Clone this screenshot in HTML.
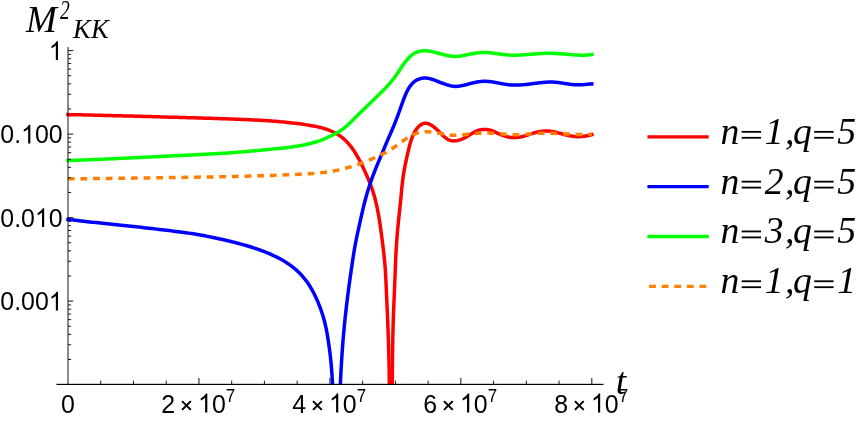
<!DOCTYPE html><html><head><meta charset="utf-8"><style>
html,body{margin:0;padding:0;background:#fff;}
body{width:864px;height:421px;overflow:hidden;position:relative;}
svg{position:absolute;left:0;top:0;will-change:transform;}
text{fill:#000;}
.sans{font-family:"Liberation Sans",sans-serif;}
.ser{font-family:"Liberation Serif",serif;font-style:italic;}
</style></head><body>
<svg width="864" height="421" viewBox="0 0 864 421">
<rect width="864" height="421" fill="#fff"/>
<defs><clipPath id="c"><rect x="0" y="0" width="864" height="384.6"/></clipPath></defs>
<g clip-path="url(#c)" fill="none" stroke-linejoin="round" stroke-linecap="square" stroke-width="3.5">
<polyline stroke="#ff0000" points="68.01,114.60 69.72,114.63 71.50,114.67 73.33,114.70 75.21,114.74 77.14,114.78 79.13,114.83 81.16,114.87 83.24,114.92 85.36,114.97 87.53,115.01 89.74,115.07 91.99,115.12 94.28,115.17 96.60,115.23 98.96,115.28 101.35,115.34 103.77,115.40 106.23,115.46 108.71,115.52 111.22,115.58 113.75,115.64 116.30,115.71 118.88,115.77 121.47,115.84 124.09,115.91 126.72,115.97 129.36,116.04 132.02,116.11 134.68,116.18 137.36,116.25 140.04,116.32 142.73,116.39 145.43,116.47 148.13,116.54 150.82,116.61 153.52,116.69 156.21,116.76 158.90,116.83 161.59,116.91 164.26,116.98 166.93,117.05 169.59,117.13 172.23,117.20 174.86,117.28 177.47,117.35 180.07,117.43 182.64,117.50 185.20,117.57 187.73,117.65 190.23,117.72 192.71,117.79 195.16,117.87 197.59,117.94 199.98,118.01 202.34,118.08 204.66,118.15 206.96,118.22 209.23,118.29 211.48,118.36 213.71,118.43 215.91,118.50 218.10,118.57 220.28,118.64 222.44,118.72 224.59,118.79 226.73,118.86 228.87,118.94 231.00,119.01 233.13,119.09 235.26,119.17 237.39,119.25 239.53,119.33 241.67,119.41 243.81,119.50 245.95,119.59 248.10,119.68 250.24,119.78 252.38,119.88 254.53,119.98 256.66,120.09 258.80,120.20 260.93,120.32 263.06,120.45 265.19,120.58 267.31,120.72 269.42,120.86 271.52,121.01 273.62,121.17 275.71,121.33 277.79,121.51 279.86,121.69 281.91,121.87 283.95,122.07 285.97,122.26 287.98,122.47 289.97,122.68 291.94,122.90 293.89,123.13 295.81,123.36 297.72,123.60 299.59,123.85 301.45,124.10 303.27,124.35 305.06,124.62 306.82,124.89 308.53,125.16 310.21,125.44 311.84,125.73 313.43,126.02 314.96,126.31 316.44,126.61 317.86,126.91 319.23,127.22 320.52,127.53 321.76,127.85 322.95,128.17 324.09,128.51 325.20,128.85 326.28,129.21 327.34,129.58 328.39,129.97 329.43,130.38 330.49,130.81 331.55,131.26 332.61,131.73 333.66,132.23 334.72,132.75 335.76,133.30 336.79,133.87 337.81,134.48 338.81,135.10 339.79,135.76 340.75,136.44 341.69,137.16 342.60,137.89 343.50,138.65 344.38,139.44 345.24,140.24 346.09,141.07 346.91,141.92 347.72,142.79 348.51,143.68 349.29,144.59 350.04,145.51 350.79,146.45 351.51,147.41 352.23,148.38 352.92,149.36 353.61,150.36 354.28,151.36 354.94,152.38 355.58,153.41 356.21,154.45 356.83,155.49 357.44,156.54 358.04,157.60 358.63,158.66 359.20,159.73 359.77,160.80 360.33,161.88 360.88,162.95 361.41,164.03 361.94,165.11 362.47,166.19 362.98,167.27 363.49,168.34 363.98,169.42 364.48,170.49 364.96,171.56 365.44,172.63 365.91,173.69 366.38,174.75 366.84,175.80 367.29,176.85 367.75,177.88 368.19,178.92 368.63,179.95 369.07,180.99 369.51,182.04 369.95,183.12 370.38,184.22 370.82,185.36 371.25,186.54 371.69,187.77 372.12,189.05 372.56,190.38 373.00,191.75 373.43,193.16 373.86,194.60 374.28,196.06 374.69,197.54 375.09,199.04 375.48,200.55 375.86,202.06 376.22,203.56 376.57,205.06 376.90,206.56 377.22,208.04 377.52,209.53 377.81,211.00 378.09,212.47 378.36,213.94 378.62,215.41 378.87,216.87 379.11,218.33 379.35,219.78 379.58,221.24 379.80,222.68 380.01,224.12 380.22,225.54 380.42,226.93 380.61,228.29 380.80,229.63 380.98,230.92 381.15,232.17 381.31,233.37 381.46,234.52 381.60,235.62 381.74,236.70 381.88,237.77 382.02,238.85 382.16,239.96 382.31,241.12 382.46,242.35 382.63,243.67 382.80,245.08 382.98,246.57 383.17,248.13 383.37,249.76 383.57,251.44 383.76,253.17 383.96,254.94 384.15,256.74 384.34,258.56 384.53,260.39 384.70,262.22 384.86,264.05 385.01,265.86 385.15,267.66 385.28,269.46 385.40,271.25 385.51,273.03 385.62,274.82 385.72,276.62 385.81,278.43 385.90,280.25 385.98,282.09 386.07,283.94 386.15,285.83 386.23,287.74 386.32,289.68 386.41,291.66 386.50,293.68 386.59,295.73 386.68,297.81 386.78,299.93 386.87,302.08 386.97,304.26 387.07,306.48 387.17,308.73 387.27,311.01 387.37,313.33 387.47,315.67 387.57,318.05 387.67,320.46 387.77,322.90 387.86,325.36 387.96,327.86 388.06,330.39 388.15,332.94 388.24,335.53 388.33,338.14 388.42,340.78 388.50,343.45 388.59,346.14 388.66,348.86 388.74,351.61 388.81,354.38 388.88,357.18 388.95,360.01 389.01,362.85 389.07,365.73 389.12,368.62 389.17,371.54 389.21,374.49 389.25,377.45 389.28,380.44 389.30,383.45 389.33,386.47 389.34,389.44 389.36,392.28 389.37,394.89 389.38,397.20 389.40,399.13 389.42,400.59 389.45,401.50 389.49,401.78 389.54,401.34 389.60,400.11"/>
<polyline stroke="#ff0000" points="391.90,400.01 391.93,399.63 391.95,399.12 391.97,398.50 391.99,397.77 392.01,396.93 392.03,395.98 392.05,394.93 392.07,393.78 392.09,392.55 392.11,391.22 392.13,389.81 392.15,388.33 392.17,386.77 392.18,385.14 392.20,383.44 392.22,381.68 392.24,379.87 392.26,378.00 392.28,376.08 392.31,374.12 392.33,372.11 392.35,370.07 392.38,367.99 392.40,365.88 392.43,363.75 392.45,361.59 392.48,359.41 392.51,357.22 392.54,355.01 392.57,352.80 392.61,350.58 392.64,348.36 392.67,346.15 392.71,343.95 392.75,341.75 392.79,339.57 392.83,337.41 392.88,335.28 392.92,333.17 392.97,331.09 393.02,329.04 393.07,327.03 393.12,325.07 393.18,323.15 393.23,321.27 393.29,319.43 393.35,317.63 393.41,315.87 393.47,314.14 393.54,312.44 393.60,310.78 393.67,309.14 393.73,307.53 393.80,305.95 393.86,304.39 393.93,302.85 394.00,301.33 394.06,299.83 394.13,298.34 394.20,296.87 394.26,295.40 394.32,293.95 394.39,292.51 394.45,291.07 394.51,289.63 394.57,288.20 394.63,286.77 394.68,285.34 394.74,283.92 394.79,282.49 394.85,281.08 394.90,279.66 394.95,278.25 395.01,276.83 395.06,275.43 395.11,274.02 395.17,272.62 395.22,271.22 395.27,269.82 395.33,268.43 395.38,267.04 395.44,265.65 395.49,264.27 395.55,262.88 395.61,261.51 395.67,260.13 395.73,258.76 395.79,257.39 395.85,256.02 395.92,254.66 395.99,253.30 396.06,251.94 396.13,250.59 396.21,249.24 396.28,247.89 396.36,246.55 396.45,245.20 396.53,243.87 396.62,242.53 396.71,241.20 396.81,239.87 396.90,238.55 397.01,237.23 397.11,235.91 397.22,234.60 397.33,233.29 397.44,231.99 397.56,230.70 397.67,229.41 397.79,228.13 397.91,226.86 398.04,225.60 398.16,224.35 398.28,223.10 398.41,221.87 398.53,220.65 398.66,219.44 398.78,218.25 398.91,217.07 399.03,215.90 399.15,214.74 399.28,213.60 399.40,212.46 399.52,211.33 399.64,210.20 399.76,209.08 399.88,207.96 400.00,206.84 400.11,205.71 400.23,204.59 400.35,203.45 400.46,202.31 400.58,201.16 400.69,200.01 400.80,198.83 400.92,197.65 401.03,196.46 401.14,195.26 401.26,194.05 401.37,192.84 401.49,191.63 401.60,190.41 401.72,189.20 401.84,187.99 401.96,186.78 402.09,185.58 402.22,184.39 402.35,183.20 402.48,182.03 402.62,180.87 402.77,179.72 402.92,178.59 403.07,177.48 403.22,176.38 403.38,175.29 403.55,174.22 403.71,173.16 403.89,172.11 404.06,171.07 404.24,170.05 404.42,169.04 404.60,168.04 404.78,167.05 404.97,166.07 405.16,165.09 405.35,164.13 405.55,163.18 405.74,162.24 405.94,161.30 406.14,160.37 406.34,159.45 406.54,158.53 406.74,157.62 406.95,156.72 407.15,155.82 407.36,154.92 407.56,154.03 407.76,153.15 407.97,152.26 408.17,151.38 408.38,150.51 408.59,149.64 408.80,148.78 409.01,147.92 409.23,147.07 409.44,146.22 409.66,145.39 409.89,144.56 410.12,143.73 410.35,142.92 410.59,142.11 410.84,141.32 411.09,140.53 411.34,139.75 411.61,138.98 411.88,138.22 412.16,137.48 412.44,136.74 412.74,136.02 413.04,135.30 413.35,134.60 413.67,133.92 414.00,133.24 414.34,132.58 414.69,131.93 415.05,131.30 415.43,130.68 415.81,130.08 416.21,129.49 416.62,128.92 417.04,128.37 417.48,127.83 417.93,127.32 418.39,126.82 418.86,126.35 419.34,125.91 419.83,125.49 420.33,125.11 420.84,124.75 421.36,124.43 421.89,124.14 422.43,123.89 422.98,123.68 423.54,123.51 424.10,123.38 424.67,123.29 425.25,123.25 425.83,123.26 426.42,123.32 427.02,123.41 427.62,123.56 428.22,123.74 428.83,123.96 429.44,124.22 430.05,124.51 430.67,124.84 431.28,125.20 431.90,125.58 432.52,126.00 433.13,126.43 433.75,126.90 434.36,127.38 434.97,127.88 435.57,128.40 436.18,128.93 436.77,129.48 437.37,130.04 437.95,130.61 438.54,131.18 439.12,131.76 439.70,132.34 440.27,132.91 440.84,133.49 441.42,134.06 441.99,134.62 442.56,135.18 443.13,135.72 443.70,136.24 444.28,136.75 444.86,137.23 445.44,137.70 446.02,138.14 446.61,138.55 447.20,138.94 447.80,139.29 448.40,139.61 449.01,139.89 449.62,140.14 450.24,140.34 450.87,140.52 451.50,140.66 452.14,140.76 452.78,140.83 453.42,140.88 454.07,140.89 454.72,140.87 455.37,140.83 456.03,140.76 456.69,140.66 457.35,140.54 458.01,140.39 458.67,140.22 459.33,140.04 459.99,139.83 460.65,139.60 461.31,139.35 461.97,139.09 462.62,138.81 463.27,138.51 463.92,138.20 464.57,137.88 465.21,137.55 465.85,137.20 466.49,136.85 467.12,136.49 467.74,136.12 468.36,135.74 468.98,135.36 469.60,134.98 470.21,134.60 470.82,134.22 471.44,133.85 472.05,133.48 472.66,133.11 473.27,132.76 473.89,132.41 474.51,132.08 475.13,131.75 475.75,131.45 476.38,131.16 477.01,130.89 477.65,130.63 478.29,130.40 478.95,130.20 479.60,130.01 480.27,129.85 480.94,129.72 481.61,129.60 482.29,129.52 482.97,129.45 483.65,129.41 484.34,129.39 485.03,129.39 485.72,129.42 486.42,129.47 487.11,129.55 487.80,129.64 488.50,129.77 489.19,129.91 489.88,130.08 490.57,130.27 491.25,130.48 491.93,130.72 492.61,130.98 493.29,131.25 493.98,131.54 494.66,131.85 495.35,132.16 496.05,132.49 496.75,132.82 497.47,133.15 498.19,133.48 498.93,133.82 499.68,134.14 500.43,134.47 501.20,134.79 501.97,135.09 502.75,135.39 503.54,135.67 504.33,135.94 505.12,136.20 505.91,136.43 506.70,136.64 507.49,136.84 508.28,137.00 509.07,137.15 509.86,137.28 510.64,137.38 511.43,137.46 512.22,137.52 513.00,137.56 513.79,137.58 514.58,137.58 515.37,137.56 516.16,137.51 516.96,137.45 517.76,137.37 518.55,137.27 519.36,137.15 520.16,137.01 520.97,136.86 521.78,136.68 522.60,136.49 523.42,136.28 524.25,136.05 525.08,135.81 525.92,135.55 526.76,135.28 527.61,135.00 528.46,134.72 529.32,134.43 530.18,134.14 531.06,133.85 531.93,133.56 532.82,133.28 533.71,133.01 534.60,132.75 535.51,132.50 536.42,132.27 537.33,132.05 538.24,131.85 539.16,131.67 540.07,131.50 540.99,131.36 541.90,131.23 542.80,131.13 543.70,131.04 544.59,130.98 545.47,130.95 546.34,130.94 547.20,130.96 548.05,131.00 548.90,131.06 549.73,131.14 550.57,131.25 551.40,131.37 552.23,131.51 553.06,131.66 553.89,131.83 554.72,132.02 555.57,132.21 556.42,132.42 557.27,132.63 558.13,132.85 559.00,133.08 559.87,133.31 560.75,133.54 561.63,133.78 562.52,134.02 563.41,134.25 564.30,134.48 565.20,134.71 566.10,134.94 567.00,135.15 567.90,135.36 568.80,135.56 569.71,135.75 570.62,135.92 571.52,136.08 572.43,136.23 573.33,136.35 574.24,136.46 575.14,136.55 576.05,136.62 576.95,136.67 577.84,136.69 578.74,136.69 579.63,136.67 580.51,136.62 581.38,136.56 582.24,136.48 583.08,136.39 583.91,136.28 584.72,136.17 585.51,136.04 586.28,135.91 587.02,135.77 587.73,135.63 588.42,135.48 589.07,135.34 589.69,135.19 590.28,135.06 590.83,134.92 591.34,134.80 591.80,134.68"/>
<polyline stroke="#0000ff" points="68.01,219.40 69.85,219.64 71.73,219.87 73.63,220.10 75.55,220.33 77.50,220.56 79.47,220.79 81.46,221.02 83.48,221.25 85.53,221.47 87.59,221.70 89.68,221.93 91.79,222.16 93.93,222.38 96.08,222.61 98.26,222.84 100.47,223.07 102.69,223.31 104.94,223.54 107.21,223.78 109.50,224.01 111.81,224.25 114.14,224.50 116.50,224.74 118.87,224.99 121.27,225.24 123.68,225.49 126.12,225.75 128.58,226.01 131.06,226.27 133.56,226.54 136.07,226.81 138.61,227.08 141.17,227.36 143.74,227.65 146.33,227.94 148.93,228.23 151.52,228.52 154.11,228.82 156.68,229.12 159.24,229.41 161.76,229.71 164.25,230.00 166.69,230.29 169.09,230.58 171.43,230.87 173.70,231.15 175.91,231.42 178.04,231.69 180.08,231.95 182.03,232.21 183.88,232.45 185.64,232.69 187.29,232.92 188.87,233.14 190.38,233.36 191.83,233.58 193.25,233.80 194.64,234.02 196.02,234.25 197.40,234.49 198.80,234.73 200.23,234.98 201.70,235.25 203.21,235.53 204.75,235.83 206.33,236.13 207.94,236.45 209.57,236.78 211.23,237.11 212.91,237.46 214.60,237.81 216.31,238.18 218.02,238.54 219.74,238.92 221.47,239.30 223.19,239.69 224.91,240.08 226.63,240.48 228.35,240.88 230.06,241.29 231.77,241.71 233.48,242.13 235.18,242.56 236.88,243.00 238.58,243.44 240.26,243.89 241.94,244.35 243.62,244.82 245.29,245.30 246.94,245.78 248.60,246.27 250.24,246.78 251.87,247.29 253.49,247.81 255.11,248.34 256.71,248.88 258.30,249.43 259.88,249.99 261.44,250.56 263.00,251.15 264.54,251.74 266.07,252.34 267.58,252.96 269.07,253.59 270.56,254.23 272.02,254.88 273.47,255.55 274.90,256.22 276.32,256.91 277.72,257.62 279.10,258.33 280.46,259.07 281.80,259.81 283.12,260.57 284.42,261.34 285.70,262.13 286.96,262.93 288.19,263.75 289.41,264.58 290.60,265.43 291.76,266.29 292.91,267.17 294.03,268.06 295.12,268.98 296.19,269.90 297.23,270.85 298.25,271.80 299.24,272.77 300.21,273.76 301.16,274.75 302.08,275.76 302.97,276.78 303.84,277.81 304.69,278.85 305.51,279.90 306.30,280.96 307.08,282.03 307.84,283.11 308.58,284.21 309.31,285.33 310.02,286.47 310.72,287.63 311.41,288.81 312.09,290.02 312.77,291.25 313.44,292.51 314.10,293.79 314.76,295.09 315.40,296.42 316.04,297.77 316.67,299.14 317.28,300.52 317.89,301.93 318.49,303.36 319.07,304.80 319.64,306.26 320.20,307.73 320.74,309.22 321.27,310.73 321.78,312.24 322.28,313.77 322.77,315.31 323.23,316.86 323.69,318.42 324.12,319.98 324.53,321.56 324.93,323.14 325.30,324.73 325.66,326.32 326.00,327.92 326.33,329.52 326.64,331.12 326.94,332.72 327.22,334.31 327.50,335.91 327.76,337.50 328.01,339.09 328.26,340.67 328.50,342.25 328.73,343.81 328.96,345.37 329.18,346.93 329.40,348.49 329.61,350.05 329.81,351.62 330.01,353.19 330.20,354.78 330.38,356.38 330.56,358.01 330.73,359.65 330.90,361.31 331.05,363.00 331.21,364.71 331.35,366.45 331.49,368.19 331.62,369.95 331.75,371.71 331.87,373.47 331.99,375.24 332.10,376.99 332.21,378.74 332.31,380.48 332.41,382.20 332.50,383.89 332.59,385.56 332.67,387.21 332.75,388.81 332.83,390.39 332.91,391.92 332.98,393.40 333.05,394.84 333.11,396.22 333.18,397.54 333.24,398.81 333.30,400.01"/>
<polyline stroke="#0000ff" points="339.80,400.07 339.83,399.11 339.86,398.13 339.89,397.14 339.93,396.13 339.96,395.12 340.00,394.09 340.03,393.05 340.07,392.00 340.11,390.93 340.15,389.86 340.20,388.77 340.24,387.68 340.28,386.57 340.33,385.46 340.38,384.33 340.43,383.20 340.48,382.05 340.53,380.90 340.58,379.74 340.64,378.57 340.69,377.40 340.75,376.21 340.81,375.02 340.87,373.82 340.93,372.62 341.00,371.41 341.06,370.19 341.13,368.97 341.19,367.74 341.26,366.51 341.33,365.27 341.41,364.02 341.48,362.78 341.56,361.52 341.63,360.27 341.71,359.01 341.79,357.75 341.87,356.48 341.96,355.22 342.04,353.95 342.13,352.67 342.22,351.40 342.31,350.13 342.40,348.85 342.49,347.57 342.58,346.30 342.68,345.02 342.78,343.74 342.88,342.46 342.98,341.19 343.08,339.91 343.19,338.64 343.30,337.36 343.40,336.09 343.51,334.82 343.63,333.55 343.74,332.29 343.85,331.02 343.97,329.76 344.09,328.50 344.21,327.24 344.33,325.98 344.46,324.72 344.58,323.46 344.71,322.21 344.84,320.95 344.97,319.70 345.10,318.44 345.23,317.19 345.37,315.94 345.50,314.69 345.64,313.44 345.78,312.19 345.92,310.94 346.06,309.69 346.20,308.45 346.35,307.20 346.50,305.95 346.64,304.71 346.79,303.46 346.94,302.21 347.10,300.97 347.25,299.72 347.40,298.48 347.56,297.23 347.72,295.98 347.88,294.74 348.04,293.49 348.20,292.24 348.36,291.00 348.52,289.75 348.69,288.50 348.85,287.25 349.02,286.01 349.19,284.76 349.36,283.51 349.53,282.26 349.70,281.00 349.88,279.75 350.05,278.50 350.23,277.24 350.40,275.99 350.58,274.73 350.76,273.48 350.94,272.22 351.12,270.96 351.30,269.70 351.49,268.43 351.67,267.17 351.86,265.91 352.04,264.64 352.23,263.37 352.42,262.10 352.61,260.84 352.80,259.57 352.99,258.31 353.18,257.05 353.38,255.80 353.58,254.55 353.78,253.30 353.98,252.07 354.18,250.83 354.38,249.61 354.59,248.40 354.80,247.19 355.01,246.00 355.22,244.81 355.44,243.64 355.66,242.48 355.88,241.33 356.10,240.19 356.33,239.07 356.55,237.95 356.79,236.83 357.02,235.72 357.25,234.61 357.49,233.51 357.73,232.40 357.98,231.29 358.22,230.17 358.47,229.05 358.73,227.93 358.98,226.79 359.24,225.64 359.50,224.48 359.76,223.31 360.03,222.12 360.30,220.92 360.57,219.70 360.84,218.47 361.12,217.24 361.40,215.99 361.68,214.74 361.97,213.49 362.26,212.23 362.55,210.97 362.84,209.71 363.14,208.44 363.44,207.19 363.74,205.93 364.05,204.68 364.36,203.44 364.67,202.20 364.99,200.98 365.31,199.76 365.63,198.56 365.95,197.37 366.28,196.19 366.61,195.03 366.94,193.88 367.28,192.73 367.62,191.60 367.96,190.49 368.30,189.38 368.64,188.28 368.99,187.20 369.34,186.13 369.69,185.07 370.04,184.02 370.39,182.98 370.74,181.95 371.09,180.93 371.45,179.92 371.80,178.92 372.16,177.93 372.52,176.96 372.87,175.99 373.23,175.03 373.59,174.08 373.95,173.15 374.30,172.22 374.66,171.30 375.02,170.39 375.37,169.49 375.73,168.59 376.08,167.71 376.44,166.84 376.79,165.97 377.14,165.11 377.49,164.26 377.85,163.41 378.20,162.57 378.55,161.73 378.90,160.89 379.26,160.04 379.61,159.19 379.97,158.34 380.33,157.49 380.70,156.62 381.06,155.75 381.43,154.87 381.81,153.98 382.18,153.07 382.57,152.16 382.95,151.24 383.33,150.31 383.72,149.38 384.11,148.45 384.50,147.51 384.89,146.57 385.28,145.64 385.67,144.71 386.06,143.78 386.45,142.86 386.84,141.94 387.23,141.04 387.61,140.14 388.00,139.26 388.38,138.38 388.76,137.52 389.13,136.66 389.51,135.81 389.88,134.96 390.25,134.12 390.62,133.29 390.98,132.45 391.34,131.62 391.70,130.79 392.06,129.96 392.42,129.13 392.77,128.30 393.12,127.47 393.47,126.63 393.81,125.80 394.16,124.95 394.50,124.11 394.84,123.26 395.18,122.41 395.52,121.55 395.86,120.69 396.19,119.82 396.53,118.95 396.86,118.07 397.19,117.18 397.52,116.28 397.86,115.39 398.19,114.48 398.52,113.57 398.84,112.66 399.17,111.75 399.50,110.84 399.82,109.93 400.15,109.02 400.47,108.12 400.79,107.22 401.11,106.33 401.43,105.44 401.74,104.56 402.06,103.69 402.37,102.83 402.68,101.99 402.98,101.15 403.29,100.33 403.59,99.53 403.89,98.74 404.19,97.97 404.48,97.21 404.78,96.48 405.07,95.77 405.35,95.08 405.64,94.41 405.92,93.77 406.19,93.15 406.47,92.56 406.74,91.98 407.01,91.43 407.28,90.89 407.55,90.37 407.82,89.87 408.08,89.38 408.35,88.91 408.61,88.46 408.88,88.01 409.15,87.58 409.42,87.16 409.69,86.76 409.96,86.36 410.24,85.98 410.52,85.60 410.80,85.23 411.09,84.87 411.39,84.52 411.69,84.18 412.00,83.84 412.31,83.50 412.63,83.18 412.96,82.85 413.30,82.54 413.65,82.23 414.01,81.93 414.37,81.63 414.75,81.35 415.14,81.07 415.54,80.80 415.96,80.54 416.38,80.29 416.81,80.05 417.26,79.82 417.71,79.61 418.17,79.40 418.65,79.21 419.13,79.03 419.62,78.86 420.11,78.71 420.62,78.57 421.13,78.44 421.65,78.33 422.18,78.24 422.72,78.16 423.26,78.10 423.81,78.06 424.36,78.03 424.92,78.02 425.48,78.04 426.05,78.07 426.63,78.11 427.21,78.18 427.79,78.27 428.38,78.37 428.97,78.48 429.56,78.61 430.16,78.76 430.76,78.92 431.37,79.08 431.98,79.27 432.59,79.46 433.20,79.66 433.82,79.87 434.44,80.09 435.06,80.31 435.68,80.54 436.30,80.78 436.93,81.02 437.56,81.26 438.18,81.51 438.81,81.76 439.44,82.01 440.07,82.26 440.70,82.51 441.33,82.76 441.96,83.01 442.59,83.25 443.22,83.49 443.85,83.73 444.48,83.96 445.11,84.18 445.73,84.40 446.36,84.60 446.98,84.81 447.60,85.00 448.22,85.18 448.84,85.35 449.46,85.52 450.07,85.67 450.68,85.81 451.29,85.93 451.90,86.05 452.50,86.14 453.10,86.23 453.70,86.30 454.29,86.35 454.88,86.39 455.47,86.41 456.05,86.41 456.63,86.40 457.22,86.37 457.80,86.32 458.39,86.26 458.98,86.19 459.58,86.10 460.18,86.01 460.80,85.90 461.42,85.77 462.06,85.64 462.70,85.50 463.35,85.35 464.00,85.20 464.67,85.03 465.34,84.86 466.02,84.69 466.71,84.51 467.40,84.33 468.10,84.15 468.80,83.96 469.51,83.78 470.23,83.59 470.94,83.41 471.67,83.23 472.40,83.05 473.13,82.88 473.87,82.71 474.61,82.54 475.35,82.38 476.10,82.23 476.84,82.09 477.59,81.96 478.35,81.84 479.10,81.72 479.85,81.62 480.61,81.54 481.37,81.46 482.12,81.40 482.88,81.35 483.63,81.32 484.38,81.31 485.14,81.31 485.89,81.32 486.64,81.35 487.38,81.39 488.13,81.44 488.88,81.51 489.63,81.58 490.37,81.67 491.11,81.76 491.86,81.87 492.60,81.98 493.34,82.09 494.08,82.22 494.82,82.35 495.56,82.48 496.30,82.62 497.03,82.76 497.77,82.90 498.50,83.04 499.24,83.18 499.97,83.33 500.70,83.47 501.44,83.61 502.17,83.75 502.90,83.88 503.63,84.02 504.36,84.14 505.09,84.26 505.81,84.38 506.54,84.48 507.27,84.58 507.99,84.67 508.72,84.76 509.44,84.83 510.17,84.89 510.89,84.95 511.61,84.99 512.34,85.03 513.06,85.06 513.78,85.08 514.50,85.09 515.22,85.10 515.94,85.10 516.66,85.09 517.38,85.07 518.09,85.05 518.81,85.03 519.53,84.99 520.24,84.96 520.96,84.91 521.67,84.87 522.39,84.81 523.10,84.76 523.81,84.69 524.53,84.63 525.24,84.56 525.95,84.49 526.66,84.41 527.37,84.33 528.08,84.25 528.79,84.17 529.50,84.08 530.20,83.99 530.91,83.90 531.62,83.81 532.32,83.72 533.03,83.62 533.74,83.53 534.44,83.44 535.15,83.34 535.85,83.25 536.55,83.16 537.26,83.07 537.96,82.98 538.67,82.89 539.37,82.81 540.07,82.73 540.78,82.65 541.48,82.57 542.19,82.50 542.89,82.43 543.60,82.37 544.30,82.31 545.01,82.26 545.72,82.21 546.42,82.16 547.13,82.13 547.84,82.09 548.55,82.07 549.26,82.05 549.97,82.04 550.68,82.04 551.39,82.05 552.11,82.06 552.82,82.08 553.54,82.11 554.25,82.16 554.97,82.21 555.69,82.27 556.41,82.33 557.13,82.41 557.86,82.49 558.58,82.58 559.30,82.67 560.03,82.77 560.75,82.87 561.48,82.98 562.21,83.08 562.94,83.19 563.67,83.31 564.40,83.42 565.13,83.53 565.86,83.65 566.59,83.76 567.32,83.87 568.06,83.98 568.79,84.08 569.52,84.18 570.26,84.28 570.99,84.37 571.73,84.46 572.46,84.54 573.20,84.61 573.93,84.67 574.67,84.73 575.41,84.78 576.14,84.82 576.88,84.84 577.61,84.86 578.35,84.87 579.08,84.86 579.82,84.84 580.55,84.82 581.28,84.78 582.01,84.74 582.73,84.69 583.44,84.63 584.15,84.57 584.85,84.51 585.55,84.44 586.23,84.37 586.90,84.31 587.57,84.24 588.22,84.17 588.85,84.11 589.48,84.05 590.08,84.00 590.68,83.95 591.25,83.91 591.81,83.88"/>
<polyline stroke="#00ff00" points="68.02,160.50 69.26,160.46 70.54,160.42 71.85,160.38 73.19,160.34 74.56,160.29 75.96,160.25 77.39,160.20 78.84,160.15 80.32,160.09 81.83,160.04 83.36,159.98 84.92,159.92 86.50,159.86 88.10,159.80 89.73,159.73 91.38,159.67 93.04,159.60 94.73,159.53 96.44,159.46 98.17,159.38 99.92,159.31 101.68,159.23 103.46,159.16 105.26,159.08 107.08,159.00 108.90,158.92 110.75,158.84 112.60,158.75 114.47,158.67 116.35,158.58 118.25,158.50 120.15,158.41 122.06,158.32 123.99,158.23 125.92,158.14 127.86,158.05 129.80,157.96 131.76,157.87 133.72,157.77 135.68,157.68 137.65,157.59 139.62,157.49 141.60,157.40 143.58,157.30 145.56,157.21 147.54,157.11 149.52,157.01 151.51,156.92 153.49,156.82 155.47,156.72 157.44,156.63 159.42,156.53 161.39,156.43 163.35,156.33 165.31,156.24 167.27,156.14 169.22,156.04 171.16,155.95 173.09,155.85 175.02,155.76 176.93,155.66 178.84,155.57 180.73,155.47 182.61,155.38 184.49,155.28 186.34,155.19 188.19,155.10 190.02,155.01 191.84,154.92 193.64,154.83 195.42,154.74 197.19,154.65 198.94,154.56 200.67,154.48 202.39,154.39 204.08,154.31 205.76,154.22 207.43,154.14 209.08,154.05 210.73,153.97 212.36,153.88 213.98,153.80 215.59,153.71 217.19,153.62 218.79,153.53 220.38,153.44 221.97,153.35 223.56,153.25 225.14,153.15 226.73,153.05 228.31,152.95 229.90,152.84 231.49,152.73 233.09,152.61 234.69,152.49 236.30,152.37 237.91,152.24 239.53,152.11 241.16,151.98 242.78,151.84 244.41,151.70 246.04,151.56 247.66,151.41 249.28,151.26 250.90,151.12 252.50,150.97 254.10,150.82 255.68,150.67 257.25,150.52 258.81,150.37 260.35,150.22 261.87,150.07 263.37,149.93 264.85,149.79 266.31,149.65 267.74,149.51 269.14,149.38 270.52,149.25 271.86,149.12 273.18,149.00 274.48,148.88 275.75,148.76 277.00,148.64 278.23,148.53 279.45,148.41 280.65,148.29 281.83,148.17 283.00,148.05 284.17,147.93 285.33,147.80 286.48,147.66 287.63,147.53 288.77,147.38 289.92,147.24 291.07,147.08 292.22,146.92 293.37,146.75 294.52,146.57 295.66,146.39 296.81,146.20 297.95,146.01 299.09,145.81 300.22,145.61 301.35,145.39 302.46,145.18 303.57,144.96 304.67,144.73 305.75,144.51 306.83,144.27 307.89,144.03 308.93,143.79 309.96,143.55 310.97,143.30 311.97,143.05 312.95,142.79 313.90,142.53 314.84,142.27 315.75,142.01 316.64,141.74 317.51,141.47 318.35,141.20 319.16,140.93 319.95,140.66 320.70,140.38 321.44,140.10 322.15,139.82 322.84,139.54 323.52,139.26 324.19,138.97 324.85,138.68 325.52,138.38 326.18,138.08 326.85,137.78 327.53,137.47 328.22,137.16 328.92,136.84 329.63,136.51 330.34,136.18 331.07,135.84 331.80,135.49 332.53,135.13 333.28,134.77 334.02,134.40 334.77,134.01 335.51,133.62 336.26,133.22 337.01,132.81 337.76,132.39 338.50,131.95 339.24,131.51 339.98,131.05 340.71,130.58 341.43,130.10 342.15,129.60 342.86,129.09 343.56,128.57 344.25,128.03 344.93,127.47 345.61,126.91 346.27,126.33 346.93,125.74 347.58,125.14 348.23,124.53 348.87,123.92 349.51,123.30 350.15,122.67 350.80,122.03 351.44,121.40 352.08,120.76 352.73,120.11 353.38,119.47 354.03,118.83 354.69,118.18 355.35,117.53 356.01,116.88 356.67,116.23 357.34,115.58 358.00,114.93 358.67,114.28 359.34,113.63 360.01,112.98 360.68,112.33 361.35,111.68 362.02,111.03 362.69,110.37 363.36,109.72 364.03,109.08 364.70,108.43 365.37,107.78 366.04,107.13 366.70,106.49 367.37,105.85 368.03,105.21 368.70,104.57 369.36,103.93 370.01,103.29 370.67,102.66 371.32,102.03 371.97,101.40 372.62,100.78 373.26,100.16 373.90,99.54 374.54,98.92 375.17,98.31 375.80,97.70 376.42,97.09 377.04,96.49 377.66,95.90 378.27,95.30 378.87,94.71 379.47,94.12 380.07,93.54 380.66,92.95 381.25,92.37 381.83,91.79 382.41,91.21 382.99,90.63 383.56,90.05 384.13,89.47 384.69,88.88 385.25,88.30 385.81,87.72 386.36,87.13 386.91,86.54 387.45,85.95 387.99,85.35 388.53,84.75 389.07,84.15 389.60,83.54 390.13,82.93 390.66,82.31 391.18,81.69 391.70,81.06 392.22,80.42 392.73,79.78 393.24,79.13 393.75,78.47 394.26,77.81 394.76,77.13 395.26,76.45 395.76,75.76 396.26,75.06 396.75,74.35 397.25,73.63 397.74,72.91 398.23,72.18 398.72,71.45 399.21,70.72 399.70,69.98 400.19,69.25 400.68,68.51 401.17,67.78 401.66,67.05 402.16,66.32 402.65,65.60 403.15,64.88 403.65,64.17 404.15,63.47 404.66,62.78 405.17,62.10 405.68,61.43 406.20,60.77 406.72,60.13 407.24,59.50 407.77,58.88 408.31,58.29 408.85,57.71 409.40,57.15 409.95,56.61 410.51,56.09 411.08,55.59 411.65,55.12 412.23,54.67 412.82,54.25 413.41,53.85 414.02,53.48 414.63,53.13 415.25,52.82 415.87,52.53 416.50,52.26 417.14,52.02 417.78,51.80 418.43,51.60 419.08,51.43 419.73,51.27 420.39,51.14 421.05,51.03 421.71,50.94 422.37,50.87 423.03,50.82 423.69,50.78 424.36,50.76 425.02,50.76 425.68,50.78 426.33,50.81 426.99,50.85 427.65,50.91 428.30,50.98 428.95,51.06 429.61,51.16 430.26,51.27 430.91,51.38 431.56,51.51 432.21,51.64 432.85,51.79 433.50,51.94 434.15,52.09 434.80,52.26 435.45,52.42 436.10,52.60 436.75,52.77 437.40,52.95 438.05,53.13 438.71,53.31 439.36,53.50 440.01,53.68 440.67,53.86 441.33,54.04 441.99,54.22 442.65,54.39 443.31,54.57 443.97,54.73 444.64,54.90 445.30,55.05 445.97,55.20 446.64,55.35 447.30,55.49 447.97,55.62 448.63,55.74 449.29,55.85 449.94,55.96 450.59,56.05 451.24,56.14 451.88,56.21 452.52,56.28 453.15,56.33 453.77,56.37 454.38,56.40 454.99,56.41 455.59,56.42 456.19,56.40 456.79,56.38 457.39,56.34 458.02,56.28 458.66,56.22 459.33,56.13 460.03,56.03 460.76,55.92 461.54,55.79 462.35,55.65 463.18,55.49 464.03,55.33 464.90,55.17 465.78,54.99 466.67,54.82 467.56,54.64 468.44,54.47 469.31,54.30 470.17,54.13 471.01,53.97 471.83,53.82 472.62,53.67 473.39,53.54 474.14,53.41 474.87,53.29 475.58,53.18 476.28,53.07 476.96,52.97 477.63,52.88 478.28,52.79 478.93,52.71 479.56,52.64 480.19,52.57 480.82,52.51 481.45,52.46 482.09,52.43 482.73,52.40 483.37,52.38 484.03,52.38 484.70,52.39 485.38,52.41 486.07,52.44 486.78,52.48 487.49,52.53 488.21,52.59 488.94,52.65 489.68,52.73 490.42,52.81 491.18,52.90 491.94,52.99 492.70,53.09 493.48,53.19 494.26,53.29 495.04,53.40 495.83,53.51 496.62,53.62 497.41,53.73 498.21,53.85 499.01,53.96 499.81,54.07 500.61,54.18 501.42,54.29 502.22,54.39 503.03,54.49 503.83,54.59 504.63,54.68 505.43,54.76 506.23,54.84 507.03,54.91 507.82,54.98 508.61,55.03 509.40,55.08 510.18,55.12 510.96,55.15 511.74,55.18 512.51,55.19 513.28,55.21 514.05,55.21 514.81,55.21 515.57,55.20 516.33,55.19 517.09,55.17 517.84,55.15 518.60,55.12 519.35,55.08 520.09,55.05 520.84,55.01 521.58,54.96 522.32,54.92 523.07,54.87 523.80,54.82 524.54,54.76 525.28,54.71 526.01,54.65 526.75,54.59 527.48,54.53 528.21,54.47 528.95,54.41 529.68,54.34 530.41,54.28 531.14,54.22 531.87,54.16 532.60,54.10 533.33,54.04 534.06,53.99 534.79,53.93 535.52,53.88 536.25,53.83 536.98,53.77 537.71,53.73 538.44,53.68 539.17,53.63 539.90,53.59 540.63,53.55 541.37,53.51 542.10,53.48 542.83,53.45 543.57,53.42 544.31,53.39 545.05,53.37 545.78,53.35 546.52,53.33 547.27,53.32 548.01,53.31 548.75,53.31 549.50,53.30 550.25,53.31 551.00,53.31 551.75,53.32 552.50,53.34 553.26,53.36 554.01,53.39 554.77,53.42 555.53,53.45 556.29,53.49 557.06,53.53 557.82,53.58 558.59,53.63 559.36,53.68 560.13,53.74 560.90,53.79 561.67,53.85 562.44,53.92 563.21,53.98 563.98,54.04 564.75,54.11 565.52,54.18 566.29,54.24 567.06,54.31 567.83,54.38 568.60,54.44 569.37,54.51 570.14,54.57 570.91,54.64 571.67,54.70 572.43,54.76 573.20,54.81 573.96,54.87 574.71,54.92 575.47,54.97 576.22,55.01 576.97,55.05 577.72,55.09 578.47,55.12 579.21,55.14 579.95,55.17 580.69,55.18 581.42,55.19 582.15,55.20 582.88,55.20 583.60,55.19 584.32,55.18 585.03,55.16 585.74,55.13 586.45,55.09 587.15,55.04 587.85,54.99 588.54,54.93 589.22,54.86 589.91,54.78 590.58,54.69 591.25,54.59 591.92,54.48"/>
<polyline stroke="#ff8000" stroke-linecap="butt" stroke-dasharray="6.8 5.826" stroke-dashoffset="0.2" points="68.02,178.80 69.46,178.79 70.94,178.78 72.46,178.77 74.03,178.75 75.63,178.74 77.27,178.73 78.95,178.71 80.66,178.70 82.40,178.68 84.18,178.67 86.00,178.65 87.84,178.63 89.71,178.62 91.62,178.60 93.55,178.58 95.51,178.56 97.49,178.54 99.50,178.51 101.53,178.49 103.59,178.47 105.66,178.45 107.76,178.42 109.88,178.40 112.01,178.37 114.17,178.35 116.34,178.32 118.52,178.30 120.72,178.27 122.93,178.24 125.16,178.21 127.39,178.19 129.64,178.16 131.89,178.13 134.15,178.10 136.42,178.07 138.69,178.04 140.97,178.01 143.26,177.98 145.54,177.95 147.83,177.92 150.11,177.89 152.40,177.85 154.68,177.82 156.96,177.79 159.24,177.76 161.51,177.72 163.78,177.69 166.04,177.66 168.29,177.62 170.53,177.59 172.76,177.55 174.98,177.52 177.19,177.49 179.38,177.45 181.56,177.42 183.73,177.38 185.87,177.35 188.00,177.31 190.11,177.28 192.20,177.24 194.27,177.21 196.32,177.17 198.34,177.14 200.34,177.10 202.32,177.07 204.27,177.04 206.20,177.00 208.12,176.97 210.02,176.93 211.90,176.89 213.77,176.86 215.63,176.82 217.48,176.79 219.32,176.75 221.16,176.71 223.00,176.68 224.84,176.64 226.67,176.60 228.51,176.56 230.36,176.52 232.22,176.48 234.08,176.44 235.95,176.40 237.84,176.36 239.74,176.31 241.64,176.27 243.55,176.22 245.46,176.18 247.36,176.13 249.25,176.09 251.13,176.04 253.00,175.99 254.85,175.94 256.67,175.90 258.47,175.85 260.24,175.80 261.97,175.75 263.67,175.70 265.32,175.65 266.93,175.60 268.50,175.55 270.01,175.49 271.46,175.44 272.87,175.39 274.24,175.34 275.57,175.29 276.87,175.23 278.14,175.18 279.40,175.13 280.65,175.08 281.89,175.02 283.13,174.97 284.38,174.92 285.64,174.86 286.92,174.81 288.22,174.75 289.55,174.70 290.90,174.64 292.27,174.59 293.66,174.53 295.07,174.47 296.49,174.41 297.92,174.34 299.37,174.28 300.83,174.21 302.29,174.13 303.75,174.06 305.23,173.98 306.70,173.89 308.17,173.80 309.64,173.70 311.11,173.60 312.57,173.50 314.04,173.38 315.49,173.26 316.94,173.13 318.39,173.00 319.83,172.86 321.26,172.71 322.68,172.55 324.10,172.38 325.50,172.20 326.90,172.01 328.29,171.82 329.66,171.61 331.03,171.39 332.38,171.16 333.72,170.92 335.05,170.67 336.36,170.42 337.67,170.15 338.96,169.87 340.23,169.59 341.50,169.29 342.75,168.99 343.98,168.69 345.20,168.37 346.41,168.05 347.60,167.73 348.78,167.39 349.95,167.05 351.10,166.71 352.23,166.36 353.36,166.01 354.47,165.65 355.58,165.28 356.67,164.91 357.75,164.53 358.82,164.16 359.89,163.77 360.94,163.38 361.99,162.99 363.03,162.59 364.06,162.19 365.09,161.79 366.11,161.38 367.13,160.97 368.14,160.55 369.15,160.13 370.15,159.71 371.15,159.29 372.15,158.86 373.15,158.43 374.14,158.00 375.13,157.56 376.12,157.12 377.11,156.67 378.10,156.22 379.08,155.76 380.06,155.30 381.04,154.83 382.01,154.35 382.98,153.86 383.95,153.36 384.92,152.86 385.88,152.34 386.84,151.82 387.79,151.28 388.74,150.73 389.69,150.17 390.63,149.60 391.57,149.01 392.51,148.41 393.44,147.80 394.37,147.17 395.29,146.53 396.21,145.87 397.12,145.20 398.04,144.53 398.95,143.86 399.86,143.18 400.77,142.50 401.68,141.83 402.59,141.17 403.51,140.51 404.42,139.87 405.35,139.24 406.27,138.63 407.19,138.04 408.12,137.46 409.04,136.91 409.95,136.39 410.87,135.88 411.77,135.41 412.66,134.96 413.55,134.54 414.42,134.15 415.28,133.80 416.12,133.48 416.95,133.18 417.77,132.92 418.58,132.69 419.38,132.49 420.17,132.31 420.95,132.16 421.73,132.04 422.49,131.93 423.26,131.85 424.02,131.79 424.78,131.75 425.53,131.73 426.29,131.73 427.05,131.74 427.80,131.76 428.57,131.81 429.33,131.86 430.09,131.92 430.86,132.00 431.63,132.09 432.40,132.19 433.17,132.29 433.95,132.41 434.72,132.53 435.50,132.65 436.27,132.79 437.05,132.92 437.83,133.06 438.61,133.21 439.38,133.35 440.16,133.50 440.94,133.64 441.72,133.79 442.49,133.94 443.27,134.08 444.04,134.22 444.82,134.35 445.59,134.48 446.36,134.61 447.13,134.72 447.89,134.84 448.66,134.94 449.42,135.03 450.18,135.11 450.94,135.19 451.70,135.25 452.45,135.30 453.20,135.33 453.94,135.36 454.69,135.37 455.44,135.36 456.20,135.35 456.96,135.33 457.72,135.29 458.50,135.24 459.29,135.19 460.09,135.13 460.91,135.05 461.75,134.97 462.60,134.88 463.47,134.79 464.37,134.69 465.29,134.58 466.24,134.46 467.21,134.34 468.21,134.22 469.22,134.10 470.26,133.98 471.32,133.85 472.38,133.74 473.47,133.62 474.56,133.52 475.66,133.42 476.77,133.33 477.88,133.25 478.99,133.18 480.11,133.13 481.22,133.08 482.34,133.05 483.46,133.03 484.58,133.02 485.70,133.02 486.82,133.03 487.94,133.06 489.05,133.09 490.17,133.13 491.28,133.17 492.39,133.23 493.49,133.30 494.60,133.37 495.70,133.44 496.80,133.52 497.90,133.61 499.00,133.70 500.10,133.78 501.20,133.87 502.29,133.96 503.39,134.05 504.48,134.13 505.57,134.22 506.67,134.29 507.76,134.37 508.86,134.43 509.95,134.49 511.05,134.54 512.14,134.58 513.24,134.62 514.34,134.64 515.44,134.65 516.54,134.64 517.64,134.63 518.75,134.60 519.85,134.57 520.96,134.52 522.06,134.47 523.17,134.41 524.28,134.34 525.39,134.27 526.50,134.19 527.61,134.11 528.72,134.03 529.83,133.95 530.94,133.87 532.05,133.78 533.16,133.70 534.27,133.62 535.38,133.55 536.49,133.48 537.60,133.41 538.70,133.35 539.81,133.30 540.92,133.26 542.02,133.22 543.12,133.20 544.23,133.18 545.33,133.17 546.43,133.17 547.53,133.18 548.63,133.19 549.73,133.21 550.83,133.24 551.92,133.27 553.02,133.30 554.12,133.34 555.22,133.38 556.31,133.43 557.41,133.48 558.51,133.54 559.60,133.59 560.70,133.65 561.80,133.71 562.89,133.77 563.99,133.83 565.09,133.89 566.19,133.95 567.29,134.00 568.39,134.06 569.49,134.12 570.59,134.17 571.69,134.22 572.80,134.27 573.90,134.31 575.01,134.35 576.12,134.39 577.22,134.42 578.33,134.45 579.44,134.47 580.56,134.48 581.67,134.49 582.79,134.49 583.90,134.48 585.02,134.47 586.14,134.44 587.27,134.41 588.39,134.37 589.52,134.32 590.65,134.26 591.78,134.18"/>
</g>
<rect x="67" y="47" width="2" height="337" fill="#000" fill-opacity="0.46"/>
<rect x="56.5" y="383.8" width="547" height="1.2" fill="#000"/>
<line x1="68" x2="73.2" y1="50.60" y2="50.60" stroke="#1a1a1a" stroke-width="1.05"/><line x1="68" x2="71.1" y1="108.96" y2="108.96" stroke="#1a1a1a" stroke-width="1"/><line x1="68" x2="71.1" y1="94.26" y2="94.26" stroke="#1a1a1a" stroke-width="1"/><line x1="68" x2="71.1" y1="83.83" y2="83.83" stroke="#1a1a1a" stroke-width="1"/><line x1="68" x2="71.1" y1="75.74" y2="75.74" stroke="#1a1a1a" stroke-width="1"/><line x1="68" x2="71.1" y1="69.12" y2="69.12" stroke="#1a1a1a" stroke-width="1"/><line x1="68" x2="71.1" y1="63.53" y2="63.53" stroke="#1a1a1a" stroke-width="1"/><line x1="68" x2="71.1" y1="58.69" y2="58.69" stroke="#1a1a1a" stroke-width="1"/><line x1="68" x2="71.1" y1="54.42" y2="54.42" stroke="#1a1a1a" stroke-width="1"/><line x1="68" x2="73.2" y1="134.10" y2="134.10" stroke="#1a1a1a" stroke-width="1.05"/><line x1="68" x2="71.1" y1="192.46" y2="192.46" stroke="#1a1a1a" stroke-width="1"/><line x1="68" x2="71.1" y1="177.76" y2="177.76" stroke="#1a1a1a" stroke-width="1"/><line x1="68" x2="71.1" y1="167.33" y2="167.33" stroke="#1a1a1a" stroke-width="1"/><line x1="68" x2="71.1" y1="159.24" y2="159.24" stroke="#1a1a1a" stroke-width="1"/><line x1="68" x2="71.1" y1="152.62" y2="152.62" stroke="#1a1a1a" stroke-width="1"/><line x1="68" x2="71.1" y1="147.03" y2="147.03" stroke="#1a1a1a" stroke-width="1"/><line x1="68" x2="71.1" y1="142.19" y2="142.19" stroke="#1a1a1a" stroke-width="1"/><line x1="68" x2="71.1" y1="137.92" y2="137.92" stroke="#1a1a1a" stroke-width="1"/><line x1="68" x2="73.2" y1="217.60" y2="217.60" stroke="#1a1a1a" stroke-width="1.05"/><line x1="68" x2="71.1" y1="275.96" y2="275.96" stroke="#1a1a1a" stroke-width="1"/><line x1="68" x2="71.1" y1="261.26" y2="261.26" stroke="#1a1a1a" stroke-width="1"/><line x1="68" x2="71.1" y1="250.83" y2="250.83" stroke="#1a1a1a" stroke-width="1"/><line x1="68" x2="71.1" y1="242.74" y2="242.74" stroke="#1a1a1a" stroke-width="1"/><line x1="68" x2="71.1" y1="236.12" y2="236.12" stroke="#1a1a1a" stroke-width="1"/><line x1="68" x2="71.1" y1="230.53" y2="230.53" stroke="#1a1a1a" stroke-width="1"/><line x1="68" x2="71.1" y1="225.69" y2="225.69" stroke="#1a1a1a" stroke-width="1"/><line x1="68" x2="71.1" y1="221.42" y2="221.42" stroke="#1a1a1a" stroke-width="1"/><line x1="68" x2="73.2" y1="301.10" y2="301.10" stroke="#1a1a1a" stroke-width="1.05"/><line x1="68" x2="71.1" y1="359.46" y2="359.46" stroke="#1a1a1a" stroke-width="1"/><line x1="68" x2="71.1" y1="344.76" y2="344.76" stroke="#1a1a1a" stroke-width="1"/><line x1="68" x2="71.1" y1="334.33" y2="334.33" stroke="#1a1a1a" stroke-width="1"/><line x1="68" x2="71.1" y1="326.24" y2="326.24" stroke="#1a1a1a" stroke-width="1"/><line x1="68" x2="71.1" y1="319.62" y2="319.62" stroke="#1a1a1a" stroke-width="1"/><line x1="68" x2="71.1" y1="314.03" y2="314.03" stroke="#1a1a1a" stroke-width="1"/><line x1="68" x2="71.1" y1="309.19" y2="309.19" stroke="#1a1a1a" stroke-width="1"/><line x1="68" x2="71.1" y1="304.92" y2="304.92" stroke="#1a1a1a" stroke-width="1"/><line x1="100.74" x2="100.74" y1="380.6" y2="384.3" stroke="#1a1a1a" stroke-width="1"/><line x1="133.47" x2="133.47" y1="380.6" y2="384.3" stroke="#1a1a1a" stroke-width="1"/><line x1="166.21" x2="166.21" y1="380.6" y2="384.3" stroke="#1a1a1a" stroke-width="1"/><line x1="198.95" x2="198.95" y1="377.9" y2="384.3" stroke="#1a1a1a" stroke-width="1.05"/><line x1="231.69" x2="231.69" y1="380.6" y2="384.3" stroke="#1a1a1a" stroke-width="1"/><line x1="264.42" x2="264.42" y1="380.6" y2="384.3" stroke="#1a1a1a" stroke-width="1"/><line x1="297.16" x2="297.16" y1="380.6" y2="384.3" stroke="#1a1a1a" stroke-width="1"/><line x1="329.90" x2="329.90" y1="377.9" y2="384.3" stroke="#1a1a1a" stroke-width="1.05"/><line x1="362.64" x2="362.64" y1="380.6" y2="384.3" stroke="#1a1a1a" stroke-width="1"/><line x1="395.38" x2="395.38" y1="380.6" y2="384.3" stroke="#1a1a1a" stroke-width="1"/><line x1="428.11" x2="428.11" y1="380.6" y2="384.3" stroke="#1a1a1a" stroke-width="1"/><line x1="460.85" x2="460.85" y1="377.9" y2="384.3" stroke="#1a1a1a" stroke-width="1.05"/><line x1="493.59" x2="493.59" y1="380.6" y2="384.3" stroke="#1a1a1a" stroke-width="1"/><line x1="526.33" x2="526.33" y1="380.6" y2="384.3" stroke="#1a1a1a" stroke-width="1"/><line x1="559.06" x2="559.06" y1="380.6" y2="384.3" stroke="#1a1a1a" stroke-width="1"/><line x1="591.80" x2="591.80" y1="377.9" y2="384.3" stroke="#1a1a1a" stroke-width="1.05"/>
<g transform="translate(48.75,59.90) scale(1,1.04)"><path transform="translate(0.00,0) scale(0.01216,-0.01216)" d="M763 0H583V1147Q518 1085 412.5 1023Q307 961 223 930V1104Q374 1175 487 1276Q600 1377 647 1472H763Z" fill="#000"/></g>
<g transform="translate(0.29,143.40) scale(1,1.04)"><text class="sans" font-size="24.9" x="0.00" y="0">0.</text><path transform="translate(20.77,0) scale(0.01216,-0.01216)" d="M763 0H583V1147Q518 1085 412.5 1023Q307 961 223 930V1104Q374 1175 487 1276Q600 1377 647 1472H763Z" fill="#000"/><text class="sans" font-size="24.9" x="34.61" y="0">00</text></g>
<g transform="translate(0.29,226.90) scale(1,1.04)"><text class="sans" font-size="24.9" x="0.00" y="0">0.0</text><path transform="translate(34.61,0) scale(0.01216,-0.01216)" d="M763 0H583V1147Q518 1085 412.5 1023Q307 961 223 930V1104Q374 1175 487 1276Q600 1377 647 1472H763Z" fill="#000"/><text class="sans" font-size="24.9" x="48.46" y="0">0</text></g>
<g transform="translate(0.29,310.40) scale(1,1.04)"><text class="sans" font-size="24.9" x="0.00" y="0">0.00</text><path transform="translate(48.46,0) scale(0.01216,-0.01216)" d="M763 0H583V1147Q518 1085 412.5 1023Q307 961 223 930V1104Q374 1175 487 1276Q600 1377 647 1472H763Z" fill="#000"/></g>
<g transform="translate(61.08,412.50) scale(1,1.06)"><text class="sans" font-size="24.9" x="0.00" y="0">0</text></g>
<g transform="translate(161.35,412.50) scale(1,1.06)"><text class="sans" font-size="24.9" x="0.00" y="0">2</text></g>
<path d="M182.05,401.10L190.85,409.90M182.05,409.90L190.85,401.10" stroke="#000" stroke-width="2.05" fill="none"/>
<g transform="translate(198.05,412.50) scale(1,1.06)"><path transform="translate(0.00,0) scale(0.01216,-0.01216)" d="M763 0H583V1147Q518 1085 412.5 1023Q307 961 223 930V1104Q374 1175 487 1276Q600 1377 647 1472H763Z" fill="#000"/><text class="sans" font-size="24.9" x="13.85" y="0">0</text></g>
<g transform="translate(225.85,401.70) scale(1,1.04)"><text class="sans" font-size="17.0" x="0.00" y="0">7</text></g>
<g transform="translate(292.30,412.50) scale(1,1.06)"><text class="sans" font-size="24.9" x="0.00" y="0">4</text></g>
<path d="M313.00,401.10L321.80,409.90M313.00,409.90L321.80,401.10" stroke="#000" stroke-width="2.05" fill="none"/>
<g transform="translate(329.00,412.50) scale(1,1.06)"><path transform="translate(0.00,0) scale(0.01216,-0.01216)" d="M763 0H583V1147Q518 1085 412.5 1023Q307 961 223 930V1104Q374 1175 487 1276Q600 1377 647 1472H763Z" fill="#000"/><text class="sans" font-size="24.9" x="13.85" y="0">0</text></g>
<g transform="translate(356.80,401.70) scale(1,1.04)"><text class="sans" font-size="17.0" x="0.00" y="0">7</text></g>
<g transform="translate(423.25,412.50) scale(1,1.06)"><text class="sans" font-size="24.9" x="0.00" y="0">6</text></g>
<path d="M443.95,401.10L452.75,409.90M443.95,409.90L452.75,401.10" stroke="#000" stroke-width="2.05" fill="none"/>
<g transform="translate(459.95,412.50) scale(1,1.06)"><path transform="translate(0.00,0) scale(0.01216,-0.01216)" d="M763 0H583V1147Q518 1085 412.5 1023Q307 961 223 930V1104Q374 1175 487 1276Q600 1377 647 1472H763Z" fill="#000"/><text class="sans" font-size="24.9" x="13.85" y="0">0</text></g>
<g transform="translate(487.75,401.70) scale(1,1.04)"><text class="sans" font-size="17.0" x="0.00" y="0">7</text></g>
<g transform="translate(554.20,412.50) scale(1,1.06)"><text class="sans" font-size="24.9" x="0.00" y="0">8</text></g>
<path d="M574.90,401.10L583.70,409.90M574.90,409.90L583.70,401.10" stroke="#000" stroke-width="2.05" fill="none"/>
<g transform="translate(590.90,412.50) scale(1,1.06)"><path transform="translate(0.00,0) scale(0.01216,-0.01216)" d="M763 0H583V1147Q518 1085 412.5 1023Q307 961 223 930V1104Q374 1175 487 1276Q600 1377 647 1472H763Z" fill="#000"/><text class="sans" font-size="24.9" x="13.85" y="0">0</text></g>
<g transform="translate(618.70,401.70) scale(1,1.04)"><text class="sans" font-size="17.0" x="0.00" y="0">7</text></g>
<text class="ser" font-size="37" x="26.1" y="32.2">M</text>
<text class="ser" font-size="27" transform="translate(60,18.6) scale(0.72,1)">2</text>
<text class="ser" font-size="26.7" x="73.1" y="38.3">KK</text>
<text class="ser" font-size="37.5" x="615.8" y="393.6">t</text>
<line x1="647.4" x2="708.7" y1="136.9" y2="136.9" stroke="#ff0000" stroke-width="3.3"/>
<text class="ser" font-size="37.7" x="720.40" y="143.80">n</text><rect x="741.65" y="130.95" width="19.40" height="1.8" fill="#000"/><rect x="741.65" y="136.90" width="19.40" height="1.8" fill="#000"/><text class="ser" font-size="37.7" x="764.70" y="143.80">1</text><text class="ser" font-size="37.7" x="784.95" y="143.80">,</text><text class="ser" font-size="37.7" x="792.97" y="143.80">q</text><rect x="814.22" y="130.95" width="19.40" height="1.8" fill="#000"/><rect x="814.22" y="136.90" width="19.40" height="1.8" fill="#000"/><text class="ser" font-size="37.7" x="837.27" y="143.80">5</text>
<line x1="647.4" x2="708.7" y1="186.7" y2="186.7" stroke="#0000ff" stroke-width="3.3"/>
<text class="ser" font-size="37.7" x="720.40" y="193.60">n</text><rect x="741.65" y="180.75" width="19.40" height="1.8" fill="#000"/><rect x="741.65" y="186.70" width="19.40" height="1.8" fill="#000"/><text class="ser" font-size="37.7" x="764.70" y="193.60">2</text><text class="ser" font-size="37.7" x="784.95" y="193.60">,</text><text class="ser" font-size="37.7" x="792.97" y="193.60">q</text><rect x="814.22" y="180.75" width="19.40" height="1.8" fill="#000"/><rect x="814.22" y="186.70" width="19.40" height="1.8" fill="#000"/><text class="ser" font-size="37.7" x="837.27" y="193.60">5</text>
<line x1="647.4" x2="708.7" y1="236.5" y2="236.5" stroke="#00ff00" stroke-width="3.3"/>
<text class="ser" font-size="37.7" x="720.40" y="243.40">n</text><rect x="741.65" y="230.55" width="19.40" height="1.8" fill="#000"/><rect x="741.65" y="236.50" width="19.40" height="1.8" fill="#000"/><text class="ser" font-size="37.7" x="764.70" y="243.40">3</text><text class="ser" font-size="37.7" x="784.95" y="243.40">,</text><text class="ser" font-size="37.7" x="792.97" y="243.40">q</text><rect x="814.22" y="230.55" width="19.40" height="1.8" fill="#000"/><rect x="814.22" y="236.50" width="19.40" height="1.8" fill="#000"/><text class="ser" font-size="37.7" x="837.27" y="243.40">5</text>
<line x1="647.4" x2="708.7" y1="286.3" y2="286.3" stroke="#ff8000" stroke-width="3.3" stroke-dasharray="6.8 5.8" stroke-dashoffset="-1.7"/>
<text class="ser" font-size="37.7" x="720.40" y="293.20">n</text><rect x="741.65" y="280.35" width="19.40" height="1.8" fill="#000"/><rect x="741.65" y="286.30" width="19.40" height="1.8" fill="#000"/><text class="ser" font-size="37.7" x="764.70" y="293.20">1</text><text class="ser" font-size="37.7" x="784.95" y="293.20">,</text><text class="ser" font-size="37.7" x="792.97" y="293.20">q</text><rect x="814.22" y="280.35" width="19.40" height="1.8" fill="#000"/><rect x="814.22" y="286.30" width="19.40" height="1.8" fill="#000"/><text class="ser" font-size="37.7" x="837.27" y="293.20">1</text>
</svg></body></html>
